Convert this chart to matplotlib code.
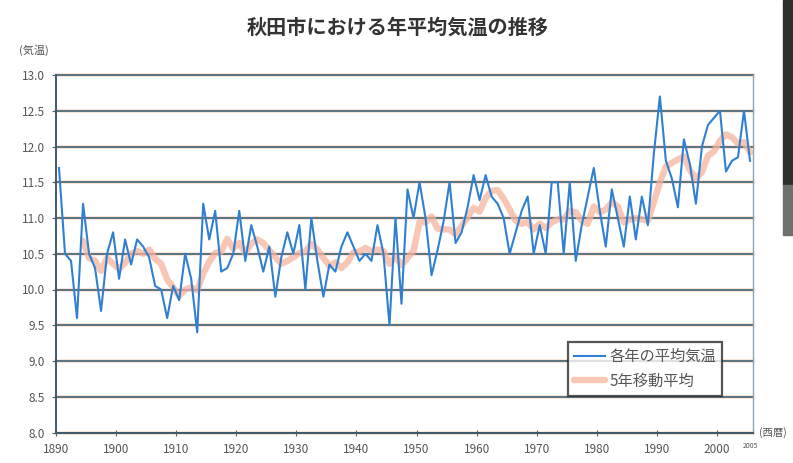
# IMPORT MODULES ====================================================

import numpy as np
import pandas as pd
import matplotlib
matplotlib.use('Agg')
import matplotlib.pyplot as plt
from matplotlib.patches import Rectangle

# =====================================================================

# DATA ================================================================

years = np.arange(1890, 2006)

temps_1890s = [11.7, 10.5, 10.4, 9.6, 11.2, 10.5, 10.3, 9.7, 10.5, 10.8]
temps_1900s = [10.15, 10.7, 10.35, 10.7, 10.6, 10.45, 10.05, 10.0, 9.6, 10.05]
temps_1910s = [9.85, 10.5, 10.15, 9.4, 11.2, 10.7, 11.1, 10.25, 10.3, 10.5]
temps_1920s = [11.1, 10.4, 10.9, 10.6, 10.25, 10.6, 9.9, 10.45, 10.8, 10.5]
temps_1930s = [10.9, 10.0, 11.0, 10.4, 9.9, 10.35, 10.25, 10.6, 10.8, 10.6]
temps_1940s = [10.4, 10.5, 10.4, 10.9, 10.5, 9.5, 11.0, 9.8, 11.4, 11.0]
temps_1950s = [11.5, 11.0, 10.2, 10.55, 10.95, 11.5, 10.65, 10.8, 11.15, 11.6]
temps_1960s = [11.25, 11.6, 11.3, 11.2, 11.0, 10.5, 10.8, 11.1, 11.3, 10.5]
temps_1970s = [10.9, 10.5, 11.5, 11.5, 10.5, 11.5, 10.4, 10.9, 11.3, 11.7]
temps_1980s = [11.1, 10.6, 11.4, 11.0, 10.6, 11.3, 10.7, 11.3, 10.9, 11.9]
temps_1990s = [12.7, 11.8, 11.55, 11.15, 12.1, 11.75, 11.2, 12.0, 12.3, 12.4]
temps_2000s = [12.5, 11.65, 11.8, 11.85, 12.5, 11.8]

temps = (temps_1890s + temps_1900s + temps_1910s + temps_1920s + temps_1930s
         + temps_1940s + temps_1950s + temps_1960s + temps_1970s
         + temps_1980s + temps_1990s + temps_2000s)

y_ticks = [8.0, 8.5, 9.0, 9.5, 10.0, 10.5, 11.0, 11.5, 12.0, 12.5, 13.0]
x_tick_labels = ['1890', '1900', '1910', '1920', '1930', '1940', '1950',
                 '1960', '1970', '1980', '1990', '2000']

title_text = '秋田市における年平均気温の推移'
label_series = '各年の平均気温'
label_ma = '5年移動平均'

# 5-year trailing moving average (like the Excel trendline)
ma5 = pd.Series(temps, index=years).rolling(5).mean()

# =====================================================================

# FIGURE ==============================================================

plt.rcParams['font.family'] = ['Noto Sans CJK JP', 'DejaVu Sans']

fig = plt.figure(figsize=(7.93, 4.63), dpi=100)
fig.patch.set_facecolor('white')

ax = fig.add_axes([56 / 793, 30.5 / 463, 697 / 793, 357.5 / 463])

# grid lines (dark with a faint pink halo, as in the scan)
for yv in y_ticks:
    ax.axhline(yv, color='#fbe6dc', linewidth=3.0, zorder=0.5, clip_on=False)
    ax.axhline(yv, color='#4d6878', linewidth=1.3, zorder=1, clip_on=False)

ax.plot(ma5.index, ma5.values, color='#f6b39c', linewidth=4.6,
        alpha=0.75, solid_capstyle='round', zorder=2, label=label_ma)
ax.plot(years, temps, color='#2f80d2', linewidth=1.5, zorder=3,
        label=label_series)

ax.set_xlim(1889.5, 2005.5)
ax.set_ylim(8.0, 13.0)

ax.set_yticks(y_ticks)
ax.set_yticklabels(['%.1f' % v for v in y_ticks], fontsize=8.5, color='#555555')
ax.set_xticks([1889.5 + 10 * i for i in range(len(x_tick_labels))])
ax.set_xticklabels(x_tick_labels, fontsize=8.5, color='#555555')

ax.tick_params(axis='x', direction='inout', length=5, width=0.8,
               color='#4d6878', pad=5)
ax.tick_params(axis='y', direction='out', length=3, width=0.8,
               color='#4d6878', pad=5)

for side in ['left', 'bottom']:
    ax.spines[side].set_color('#3f5a6a')
    ax.spines[side].set_linewidth(1.4)
ax.spines['top'].set_visible(False)
ax.spines['right'].set_color('#8fa3b0')
ax.spines['right'].set_linewidth(1.0)

# legend
handles, labels = ax.get_legend_handles_labels()
leg = ax.legend(handles[::-1], labels[::-1], loc='upper left',
                bbox_to_anchor=(568 / 793, 1 - 342 / 463),
                bbox_transform=fig.transFigure, fontsize=11,
                frameon=True, fancybox=False, borderpad=0.4,
                handlelength=2.0, handletextpad=0.3, labelspacing=0.5,
                borderaxespad=0)
leg.get_frame().set_edgecolor('#2b2b2b')
leg.get_frame().set_linewidth(1.6)
for txt in leg.get_texts():
    txt.set_color('#555555')

# texts
fig.text(398 / 793, 1 - 27 / 463, title_text, ha='center', va='center',
         fontsize=14.5, fontweight='bold', color='#333333')
fig.text(34 / 793, 1 - 50 / 463, '(気温)', ha='center', va='center',
         fontsize=8, color='#555555')
fig.text(773 / 793, 1 - 433 / 463, '(西暦)', ha='center', va='center',
         fontsize=7.5, color='#555555')
fig.text(750 / 793, 1 - 446 / 463, '2005', ha='center', va='center',
         fontsize=5, color='#555555')

# dark strip of a neighbouring picture at the right edge
fig.patches.append(Rectangle((783 / 793, 1 - 185 / 463), 10 / 793, 185 / 463,
                             transform=fig.transFigure, color='#2c302e',
                             zorder=0))
fig.patches.append(Rectangle((783 / 793, 1 - 235 / 463), 10 / 793, 50 / 463,
                             transform=fig.transFigure, color='#6e706e',
                             zorder=0))

fig.savefig('out.png', dpi=100)
